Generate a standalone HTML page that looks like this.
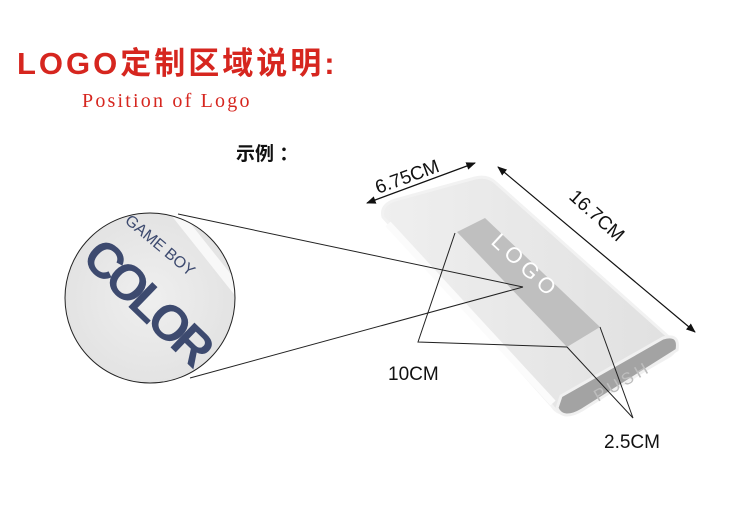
<!DOCTYPE html>
<html><head><meta charset="utf-8"><style>
html,body{margin:0;padding:0;background:#fff;}
body{width:750px;height:509px;overflow:hidden;position:relative;}
svg{position:absolute;left:0;top:0;}
</style></head><body>
<svg width="750" height="509" viewBox="0 0 750 509" xmlns="http://www.w3.org/2000/svg">
<defs>
<marker id="ar" viewBox="0 0 10 10" refX="9" refY="5" markerWidth="8" markerHeight="8" orient="auto-start-reverse"><path d="M0,1 L10,5 L0,9 z" fill="#111"/></marker>
<linearGradient id="dev" x1="0" y1="0" x2="1" y2="0"><stop offset="0" stop-color="#efefef"/><stop offset="1" stop-color="#e0e0e0"/></linearGradient>
<radialGradient id="cg" cx="0.5" cy="0.5" r="0.5"><stop offset="0" stop-color="#efefef"/><stop offset="1" stop-color="#e3e3e3"/></radialGradient>
<clipPath id="cc"><circle cx="150" cy="298" r="85"/></clipPath>
</defs>
<text x="17" y="74" font-family="Liberation Sans, Noto Sans CJK SC, sans-serif" font-weight="bold" font-size="31" fill="#d6261f" letter-spacing="3">LOGO定制区域说明:</text>
<text x="82" y="107" font-family="Liberation Serif, serif" font-size="20" fill="#d6261f" letter-spacing="2.2">Position of Logo</text>
<text x="236" y="160" font-family="Liberation Sans, Noto Sans CJK SC, sans-serif" font-weight="bold" font-size="19" fill="#111">示例 ：</text>

<path d="M383,217 Q380,205 395,200 L475,178 Q488,175 496,183 L672,340 Q680,350 668,357 L575,410 Q560,418 552,406 Z" fill="url(#dev)" stroke="#f2f2f2" stroke-width="3"/>
<path d="M388,224 L553,403" stroke="#fbfbfb" stroke-width="7" fill="none"/>
<path d="M561,396 L663,338 Q680,333 677,350 L582,410 Q563,421 557,408 Z" fill="#a3a3a3" stroke="#f0f0f0" stroke-width="3"/>
<text x="0" y="0" transform="translate(598,402) rotate(-30)" font-family="Liberation Sans, sans-serif" font-size="17" fill="#bdbdbd" letter-spacing="4">PUSH</text>
<polygon points="457,232 485,218 600,327 567,347" fill="#bfbfbf"/>
<text x="0" y="0" transform="translate(490,243) rotate(43)" font-family="Liberation Sans, sans-serif" font-size="22" fill="#fff" letter-spacing="5">LOGO</text>

<circle cx="150" cy="298" r="85" fill="url(#cg)"/>
<g clip-path="url(#cc)">
<path d="M175,212 L245,300" stroke="#f8f8f8" stroke-width="10"/>
<path d="M60,380 L120,400" stroke="#f6f6f6" stroke-width="14"/>
<text transform="translate(124,222) rotate(40)" font-family="Liberation Sans, sans-serif" font-size="16" fill="#3d4a6f">GAME BOY</text>
<text transform="translate(80,260) rotate(44)" font-family="Liberation Sans, sans-serif" font-weight="bold" font-size="50" fill="#3d4a6f" letter-spacing="-5.5">COLOR</text>
</g>
<circle cx="150" cy="298" r="85" fill="none" stroke="#222" stroke-width="1"/>
<line x1="178" y1="214" x2="523" y2="287" stroke="#222" stroke-width="1"/>
<line x1="190" y1="378" x2="523" y2="287" stroke="#222" stroke-width="1"/>

<polyline points="455,233 418,342 567,347" fill="none" stroke="#222" stroke-width="1"/>
<polyline points="567,347 633,418 600,327" fill="none" stroke="#222" stroke-width="1"/>

<line x1="367" y1="203" x2="475" y2="163" stroke="#111" stroke-width="1.2" marker-start="url(#ar)" marker-end="url(#ar)"/>
<line x1="498" y1="167" x2="695" y2="332" stroke="#111" stroke-width="1.2" marker-start="url(#ar)" marker-end="url(#ar)"/>

<text transform="translate(378,194) rotate(-20)" font-family="Liberation Sans, sans-serif" font-size="19" fill="#111">6.75CM</text>
<text transform="translate(568,198) rotate(42)" font-family="Liberation Sans, sans-serif" font-size="19" fill="#111">16.7CM</text>
<text x="388" y="380" font-family="Liberation Sans, sans-serif" font-size="19" fill="#111">10CM</text>
<text x="604" y="448" font-family="Liberation Sans, sans-serif" font-size="19" fill="#111">2.5CM</text>
</svg>
</body></html>
